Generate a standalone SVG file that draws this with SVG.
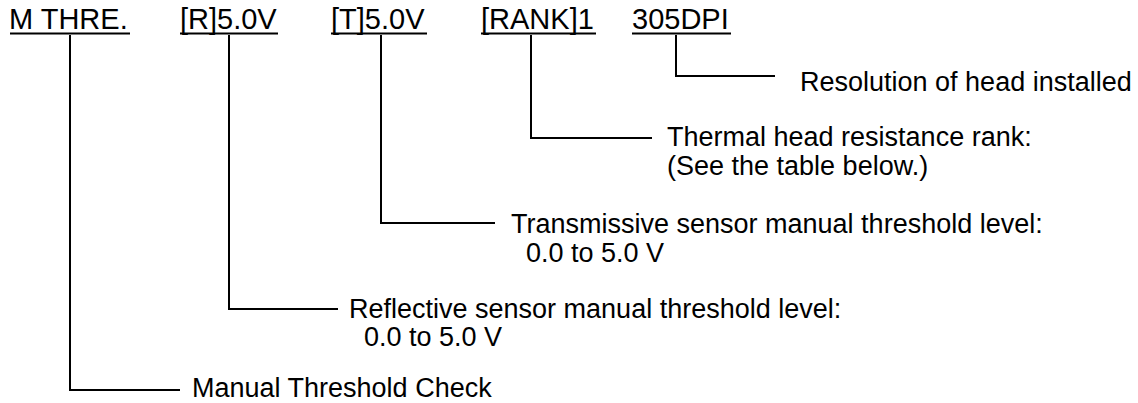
<svg xmlns="http://www.w3.org/2000/svg" width="1138" height="403" viewBox="0 0 1138 403">
<style>
text{font-family:"Liberation Sans",Arial,sans-serif;fill:#000}
.t{font-size:29px}
.d{font-size:27px}
.u{stroke:#000;stroke-width:2.2;fill:none}
.c{stroke:#000;stroke-width:2;fill:none}
</style>
<rect width="1138" height="403" fill="#fff"/>
<g id="mthre"><text class="t" x="9" y="29">M THRE.</text><line class="u" x1="10" y1="33.5" x2="130" y2="33.5"/><text class="d" x="192" y="397">Manual Threshold Check</text></g>
<g id="r"><text class="t" x="180" y="29">[R]5.0V</text><line class="u" x1="180" y1="33.5" x2="278" y2="33.5"/><text class="d" x="349" y="318">Reflective sensor manual threshold level:</text><text class="d" x="364" y="346">0.0 to 5.0 V</text></g>
<g id="t"><text class="t" x="331" y="29">[T]5.0V</text><line class="u" x1="331" y1="33.5" x2="427" y2="33.5"/><text class="d" x="511" y="233">Transmissive sensor manual threshold level:</text><text class="d" x="526" y="262">0.0 to 5.0 V</text></g>
<g id="rank"><text class="t" x="481" y="29">[RANK]1</text><line class="u" x1="481" y1="33.5" x2="596" y2="33.5"/><text class="d" x="667" y="146">Thermal head resistance rank:</text><text class="d" x="667" y="175">(See the table below.)</text></g>
<g id="dpi"><text class="t" x="632" y="29">305DPI</text><line class="u" x1="632" y1="33.5" x2="731" y2="33.5"/><text class="d" x="800" y="91">Resolution of head installed</text></g>
<g id="connectors">
<polyline class="c" points="70,35 70,390 180,390"/>
<polyline class="c" points="229,35 229,309 338,309"/>
<polyline class="c" points="381,35 381,223 495,223"/>
<polyline class="c" points="531,35 531,138 652,138"/>
<polyline class="c" points="676,35 676,76 775,76"/>
</g>
</svg>
